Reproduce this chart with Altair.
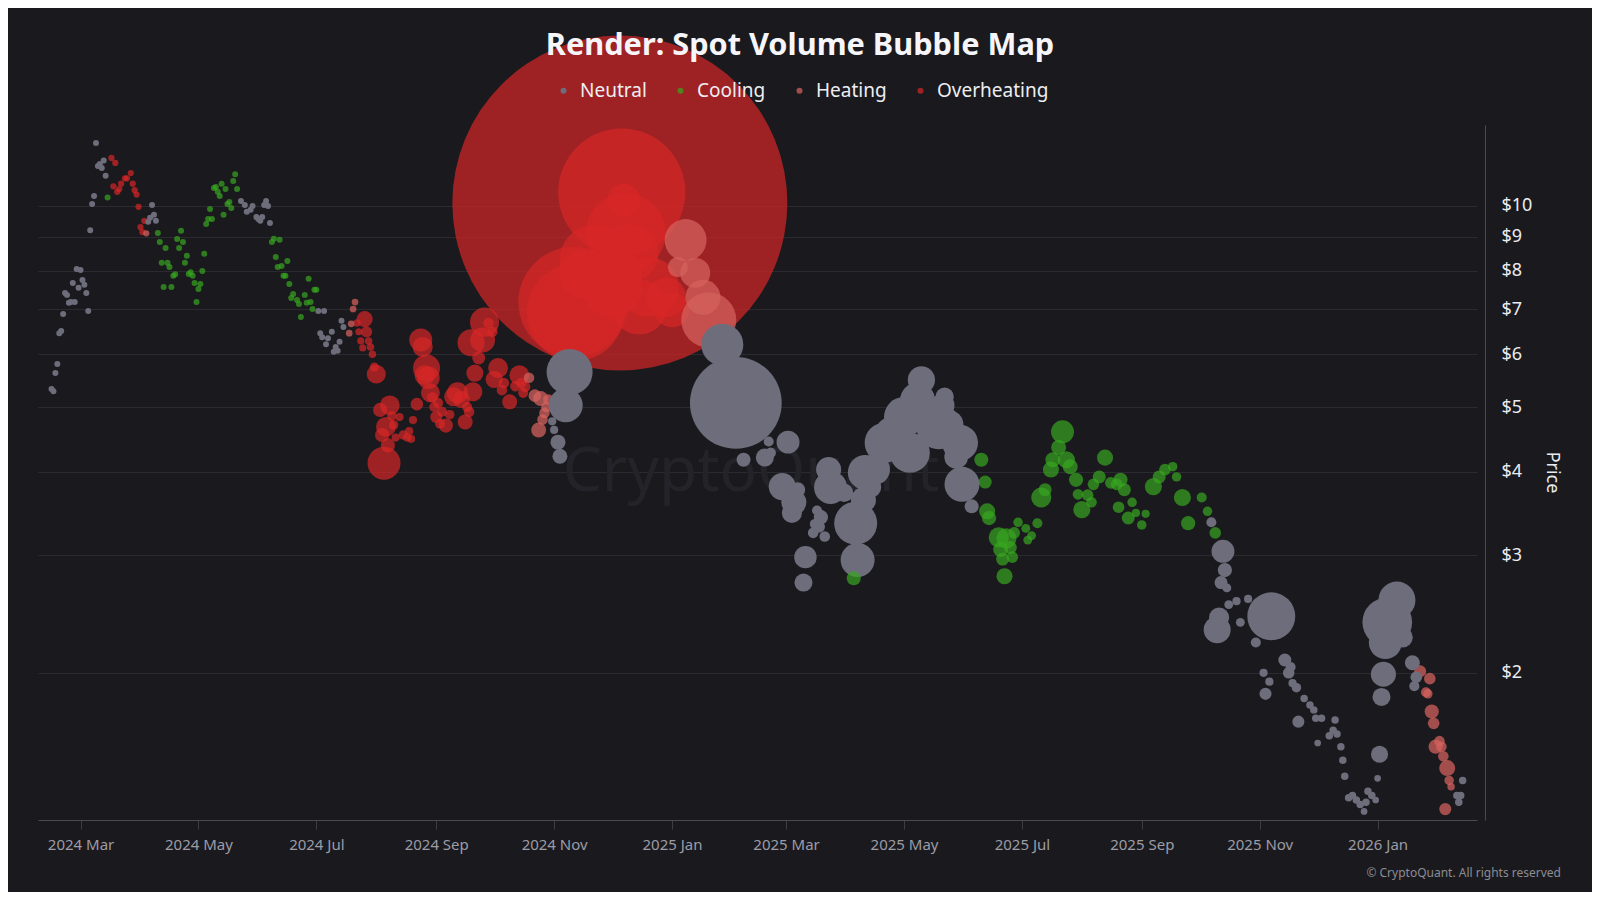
import altair as alt
import pandas as pd

# ---------------- data (date, price in USD, spot volume in $M) ----------------
NEUTRAL = [
    ("2024-02-15", 5.32, 0.32), ("2024-02-16", 5.28, 0.32), ("2024-02-17", 5.62, 0.32), ("2024-02-18", 5.80, 0.32),
    ("2024-02-19", 6.45, 0.32), ("2024-02-20", 6.50, 0.32), ("2024-02-21", 6.89, 0.32), ("2024-02-22", 7.41, 0.32),
    ("2024-02-23", 7.36, 0.32), ("2024-02-24", 7.16, 0.32), ("2024-02-25", 7.18, 0.32), ("2024-02-26", 7.67, 0.32),
    ("2024-02-27", 7.18, 0.32), ("2024-02-28", 8.05, 0.32), ("2024-02-29", 7.54, 0.32), ("2024-03-01", 8.02, 0.32),
    ("2024-03-02", 7.75, 0.32), ("2024-03-03", 7.62, 0.32), ("2024-03-04", 7.41, 0.32), ("2024-03-05", 6.96, 0.32),
    ("2024-03-06", 9.20, 0.32), ("2024-03-07", 10.07, 0.32), ("2024-03-08", 10.35, 0.32), ("2024-03-09", 12.42, 0.32),
    ("2024-03-10", 11.48, 0.32), ("2024-03-11", 11.56, 0.32), ("2024-03-12", 11.40, 0.32), ("2024-03-13", 11.70, 0.32),
    ("2024-03-14", 11.10, 0.32),
    ("2024-04-05", 9.47, 0.32), ("2024-04-06", 9.60, 0.32), ("2024-04-07", 10.03, 0.32), ("2024-04-08", 9.70, 0.32),
    ("2024-04-09", 9.50, 0.32),
    ("2024-05-23", 10.17, 0.32), ("2024-05-25", 10.03, 0.32), ("2024-05-26", 9.80, 0.32), ("2024-05-28", 9.87, 0.32),
    ("2024-05-29", 10.00, 0.32), ("2024-05-31", 9.63, 0.32), ("2024-06-01", 9.56, 0.32), ("2024-06-02", 9.50, 0.32),
    ("2024-06-03", 9.63, 0.32), ("2024-06-04", 10.03, 0.32), ("2024-06-05", 10.17, 0.32), ("2024-06-06", 10.00, 0.32),
    ("2024-06-07", 9.43, 0.32),
    ("2024-07-02", 6.96, 0.32), ("2024-07-03", 6.45, 0.32), ("2024-07-04", 6.36, 0.32), ("2024-07-05", 6.96, 0.32),
    ("2024-07-06", 6.21, 0.32), ("2024-07-07", 6.34, 0.32), ("2024-07-09", 6.48, 0.32), ("2024-07-10", 6.05, 0.32),
    ("2024-07-11", 6.15, 0.32), ("2024-07-12", 6.07, 0.32), ("2024-07-13", 6.26, 0.32), ("2024-07-14", 6.73, 0.32),
    ("2024-07-15", 6.59, 0.32),
    ("2024-10-31", 4.76, 0.6), ("2024-11-01", 4.62, 0.6), ("2024-11-03", 4.43, 2.0), ("2024-11-04", 4.22, 2.0),
    ("2024-11-07", 5.03, 10.3), ("2024-11-09", 5.64, 18.9),
    ("2025-01-27", 6.20, 15.7), ("2025-02-03", 5.07, 75.0), ("2025-02-07", 4.17, 1.75), ("2025-02-18", 4.20, 2.9),
    ("2025-02-20", 4.44, 0.9), ("2025-02-21", 4.27, 1.0), ("2025-02-27", 3.80, 6.5), ("2025-03-02", 4.43, 4.7),
    ("2025-03-04", 3.47, 3.6), ("2025-03-05", 3.60, 5.6), ("2025-03-07", 3.76, 2.0), ("2025-03-10", 2.73, 2.9),
    ("2025-03-11", 2.98, 4.5), ("2025-03-15", 3.24, 1.0), ("2025-03-16", 3.34, 1.0), ("2025-03-17", 3.50, 0.9),
    ("2025-03-18", 3.31, 1.3), ("2025-03-19", 3.42, 1.8), ("2025-03-21", 3.20, 1.0), ("2025-03-23", 4.03, 5.6),
    ("2025-03-24", 3.79, 9.7), ("2025-03-31", 3.72, 3.0),
    ("2025-04-06", 3.35, 16.5), ("2025-04-07", 2.95, 10.3), ("2025-04-10", 3.63, 5.6), ("2025-04-11", 3.99, 10.9),
    ("2025-04-14", 3.79, 3.6), ("2025-04-16", 4.03, 8.0), ("2025-04-18", 4.45, 5.6), ("2025-04-21", 4.42, 14.3),
    ("2025-04-23", 4.62, 5.0), ("2025-04-28", 4.95, 4.0), ("2025-05-01", 4.83, 14.3), ("2025-05-03", 4.80, 5.0),
    ("2025-05-04", 4.27, 14.3), ("2025-05-08", 5.12, 10.9), ("2025-05-10", 5.49, 6.6), ("2025-05-12", 4.78, 5.0),
    ("2025-05-17", 4.87, 6.0), ("2025-05-19", 4.67, 18.0), ("2025-05-21", 5.03, 5.0), ("2025-05-22", 5.18, 3.0),
    ("2025-05-24", 4.70, 8.0), ("2025-05-28", 4.21, 5.0), ("2025-05-30", 4.42, 11.5), ("2025-05-31", 3.83, 10.9),
    ("2025-06-05", 3.55, 1.75),
    ("2025-10-07", 3.36, 0.9), ("2025-10-10", 2.32, 6.5), ("2025-10-11", 2.42, 3.6), ("2025-10-12", 2.73, 1.5),
    ("2025-10-13", 3.04, 4.7), ("2025-10-14", 2.85, 1.8), ("2025-10-15", 2.68, 0.7), ("2025-10-16", 2.53, 0.7),
    ("2025-10-20", 2.56, 0.6), ("2025-10-22", 2.38, 0.7), ("2025-10-26", 2.58, 0.6), ("2025-10-30", 2.22, 0.9),
    ("2025-11-03", 2.00, 0.6), ("2025-11-04", 1.86, 1.3), ("2025-11-06", 1.94, 0.6), ("2025-11-07", 2.43, 20.5),
    ("2025-11-14", 2.09, 1.5), ("2025-11-16", 2.00, 1.2), ("2025-11-17", 2.04, 0.9), ("2025-11-18", 1.93, 0.6),
    ("2025-11-20", 1.90, 0.8), ("2025-11-21", 1.69, 1.3), ("2025-11-24", 1.83, 0.5), ("2025-11-27", 1.79, 0.5),
    ("2025-11-29", 1.76, 0.5), ("2025-11-30", 1.71, 0.5), ("2025-12-01", 1.57, 0.4), ("2025-12-03", 1.71, 0.5),
    ("2025-12-07", 1.61, 0.5), ("2025-12-09", 1.64, 0.5), ("2025-12-10", 1.70, 0.5), ("2025-12-11", 1.62, 0.5),
    ("2025-12-13", 1.55, 0.5), ("2025-12-14", 1.48, 0.5), ("2025-12-15", 1.40, 0.5), ("2025-12-17", 1.30, 0.5),
    ("2025-12-19", 1.31, 0.5), ("2025-12-21", 1.29, 0.5), ("2025-12-23", 1.27, 0.5), ("2025-12-25", 1.24, 0.4),
    ("2025-12-26", 1.28, 0.5), ("2025-12-27", 1.33, 0.5), ("2025-12-29", 1.31, 0.5), ("2025-12-31", 1.29, 0.4),
    ("2026-01-01", 1.39, 0.4), ("2026-01-02", 1.51, 2.6), ("2026-01-03", 1.84, 2.9), ("2026-01-04", 1.99, 5.6),
    ("2026-01-05", 2.22, 9.7), ("2026-01-06", 2.38, 22.0), ("2026-01-08", 2.30, 5.0), ("2026-01-11", 2.57, 12.2),
    ("2026-01-14", 2.26, 3.6), ("2026-01-19", 2.07, 2.0), ("2026-01-20", 1.91, 0.9), ("2026-01-21", 1.97, 1.2),
    ("2026-02-11", 1.31, 0.5), ("2026-02-12", 1.28, 0.5), ("2026-02-13", 1.31, 0.5), ("2026-02-14", 1.38, 0.5),
]

COOLING = [
    ("2024-03-15", 10.30, 0.32),
    ("2024-04-10", 9.11, 0.32), ("2024-04-11", 8.83, 0.32), ("2024-04-12", 8.22, 0.32), ("2024-04-13", 7.56, 0.32),
    ("2024-04-14", 8.65, 0.32), ("2024-04-15", 8.22, 0.32), ("2024-04-16", 8.10, 0.32), ("2024-04-17", 7.56, 0.32),
    ("2024-04-18", 7.86, 0.32), ("2024-04-19", 7.90, 0.32), ("2024-04-20", 8.92, 0.32), ("2024-04-21", 8.65, 0.32),
    ("2024-04-22", 9.18, 0.32), ("2024-04-23", 8.83, 0.32), ("2024-04-24", 8.22, 0.32), ("2024-04-25", 8.42, 0.32),
    ("2024-04-26", 7.91, 0.32), ("2024-04-27", 7.96, 0.32), ("2024-04-28", 7.86, 0.32), ("2024-04-29", 7.67, 0.32),
    ("2024-04-30", 7.18, 0.32), ("2024-05-01", 7.51, 0.32), ("2024-05-02", 7.64, 0.32), ("2024-05-03", 7.99, 0.32),
    ("2024-05-04", 8.48, 0.32), ("2024-05-05", 9.40, 0.32), ("2024-05-06", 9.56, 0.32), ("2024-05-07", 9.90, 0.32),
    ("2024-05-08", 9.56, 0.32), ("2024-05-09", 10.64, 0.32), ("2024-05-10", 10.68, 0.32), ("2024-05-11", 10.50, 0.32),
    ("2024-05-12", 10.35, 0.32), ("2024-05-13", 10.80, 0.32), ("2024-05-14", 9.70, 0.32), ("2024-05-15", 10.60, 0.32),
    ("2024-05-16", 10.07, 0.32), ("2024-05-17", 10.14, 0.32), ("2024-05-18", 9.93, 0.32), ("2024-05-19", 10.90, 0.32),
    ("2024-05-20", 11.16, 0.32), ("2024-05-21", 10.60, 0.32),
    ("2024-06-08", 8.83, 0.32), ("2024-06-09", 8.93, 0.32), ("2024-06-10", 8.39, 0.32), ("2024-06-11", 8.10, 0.32),
    ("2024-06-12", 8.90, 0.32), ("2024-06-13", 8.13, 0.32), ("2024-06-14", 7.86, 0.32), ("2024-06-15", 7.86, 0.32),
    ("2024-06-16", 8.27, 0.32), ("2024-06-17", 7.64, 0.32), ("2024-06-18", 7.28, 0.32), ("2024-06-19", 7.38, 0.32),
    ("2024-06-21", 7.23, 0.32), ("2024-06-22", 7.13, 0.32), ("2024-06-23", 6.82, 0.32), ("2024-06-25", 7.36, 0.32),
    ("2024-06-26", 7.16, 0.32), ("2024-06-27", 7.78, 0.32), ("2024-06-28", 7.18, 0.32), ("2024-06-29", 7.01, 0.32),
    ("2024-06-30", 7.49, 0.32), ("2024-07-01", 7.49, 0.32),
    ("2025-04-05", 2.77, 1.75),
    ("2025-06-10", 4.17, 1.75), ("2025-06-12", 3.86, 1.5), ("2025-06-13", 3.49, 2.3), ("2025-06-14", 3.41, 1.8),
    ("2025-06-19", 3.19, 3.6), ("2025-06-20", 3.06, 2.0), ("2025-06-21", 2.96, 1.5), ("2025-06-22", 2.79, 2.3),
    ("2025-06-23", 3.18, 3.6), ("2025-06-25", 3.08, 1.5), ("2025-06-26", 2.98, 1.2), ("2025-06-27", 3.24, 1.2),
    ("2025-06-29", 3.36, 0.8), ("2025-07-03", 3.29, 0.7), ("2025-07-04", 3.16, 0.7), ("2025-07-06", 3.21, 0.7),
    ("2025-07-09", 3.35, 0.9), ("2025-07-11", 3.66, 3.6), ("2025-07-13", 3.76, 1.5), ("2025-07-16", 4.03, 2.3),
    ("2025-07-17", 4.17, 2.0), ("2025-07-20", 4.35, 2.0), ("2025-07-22", 4.59, 4.7), ("2025-07-24", 4.17, 2.6),
    ("2025-07-26", 4.07, 2.0), ("2025-07-29", 3.89, 1.8), ("2025-07-30", 3.70, 1.0), ("2025-08-01", 3.51, 2.6),
    ("2025-08-04", 3.69, 1.2), ("2025-08-06", 3.60, 1.0), ("2025-08-07", 3.83, 1.2), ("2025-08-10", 3.93, 1.5),
    ("2025-08-13", 4.20, 2.3), ("2025-08-16", 3.85, 1.2), ("2025-08-19", 3.83, 1.2), ("2025-08-20", 3.54, 1.2),
    ("2025-08-21", 3.89, 1.8), ("2025-08-23", 3.76, 1.5), ("2025-08-25", 3.41, 1.5), ("2025-08-27", 3.60, 0.8),
    ("2025-08-29", 3.47, 0.6), ("2025-09-01", 3.33, 0.8), ("2025-09-03", 3.46, 0.6), ("2025-09-07", 3.80, 2.6),
    ("2025-09-10", 3.93, 1.5), ("2025-09-13", 4.03, 1.2), ("2025-09-17", 4.07, 0.8), ("2025-09-19", 3.93, 0.8),
    ("2025-09-22", 3.66, 2.6), ("2025-09-25", 3.35, 1.8), ("2025-10-02", 3.66, 0.9), ("2025-10-05", 3.49, 0.8),
    ("2025-10-09", 3.24, 1.2),
]

HEATING = [
    ("2024-04-04", 9.10, 0.35),
    ("2024-07-18", 6.45, 0.4), ("2024-07-19", 6.66, 0.4), ("2024-07-20", 7.01, 0.4), ("2024-07-21", 7.18, 0.4),
    ("2024-10-19", 5.53, 1.0), ("2024-10-22", 5.20, 1.4), ("2024-10-24", 4.62, 2.0), ("2024-10-25", 5.15, 2.0),
    ("2024-10-26", 4.79, 1.0), ("2024-10-27", 4.90, 1.0), ("2024-10-28", 5.00, 1.0), ("2024-10-29", 5.13, 1.0),
    ("2025-01-04", 8.10, 3.6), ("2025-01-08", 8.89, 15.7), ("2025-01-13", 7.94, 8.0), ("2025-01-17", 7.30, 10.9),
    ("2025-01-20", 6.75, 27.0),
    ("2026-01-23", 2.01, 1.3), ("2026-01-26", 1.87, 0.9), ("2026-01-27", 1.86, 0.8), ("2026-01-28", 1.96, 1.2),
    ("2026-01-29", 1.75, 1.8), ("2026-01-30", 1.68, 1.2), ("2026-01-31", 1.55, 1.8), ("2026-02-02", 1.58, 1.0),
    ("2026-02-03", 1.55, 1.0), ("2026-02-04", 1.50, 1.0), ("2026-02-05", 1.25, 1.3), ("2026-02-06", 1.44, 2.3),
    ("2026-02-07", 1.38, 0.8), ("2026-02-08", 1.35, 0.5),
]

OVERHEATING = [
    ("2024-03-17", 11.80, 0.35), ("2024-03-18", 10.70, 0.35), ("2024-03-19", 11.60, 0.35), ("2024-03-20", 10.50, 0.35),
    ("2024-03-21", 10.60, 0.35), ("2024-03-22", 10.80, 0.35), ("2024-03-24", 11.00, 0.35), ("2024-03-25", 11.00, 0.35),
    ("2024-03-27", 11.20, 0.35), ("2024-03-28", 10.80, 0.35), ("2024-03-29", 10.56, 0.35), ("2024-03-30", 10.40, 0.35),
    ("2024-03-31", 9.97, 0.35), ("2024-04-01", 9.30, 0.35), ("2024-04-02", 9.14, 0.35), ("2024-04-03", 9.50, 0.35),
    ("2024-07-22", 6.68, 0.5), ("2024-07-23", 6.48, 0.45), ("2024-07-24", 6.28, 0.45), ("2024-07-25", 6.13, 0.45),
    ("2024-07-26", 6.77, 2.3), ("2024-07-27", 6.48, 1.1), ("2024-07-28", 6.28, 0.5), ("2024-07-29", 6.15, 0.5),
    ("2024-07-30", 6.00, 0.5), ("2024-07-31", 5.74, 0.72), ("2024-08-01", 5.60, 3.2),
    ("2024-08-03", 4.95, 1.8), ("2024-08-04", 4.54, 1.8), ("2024-08-05", 4.12, 9.7), ("2024-08-06", 4.67, 3.5),
    ("2024-08-07", 4.38, 1.8), ("2024-08-08", 5.03, 3.5), ("2024-08-09", 4.85, 0.8), ("2024-08-10", 4.70, 0.8),
    ("2024-08-11", 4.50, 0.6), ("2024-08-13", 4.83, 0.6), ("2024-08-15", 4.54, 0.8), ("2024-08-17", 4.50, 0.6),
    ("2024-08-18", 4.60, 0.6), ("2024-08-19", 4.48, 0.6), ("2024-08-20", 4.78, 0.6), ("2024-08-22", 5.05, 1.4),
    ("2024-08-24", 6.30, 4.7), ("2024-08-25", 6.15, 3.6), ("2024-08-26", 5.58, 3.6), ("2024-08-27", 5.72, 6.5),
    ("2024-08-28", 5.53, 4.5), ("2024-08-29", 5.25, 3.2), ("2024-08-30", 5.17, 1.0), ("2024-08-31", 5.00, 0.9),
    ("2024-09-01", 4.83, 1.3), ("2024-09-02", 5.07, 0.9), ("2024-09-03", 4.72, 0.9), ("2024-09-04", 4.92, 0.9),
    ("2024-09-06", 4.69, 1.8), ("2024-09-08", 4.87, 0.8), ("2024-09-10", 5.18, 3.2), ("2024-09-12", 5.25, 4.0),
    ("2024-09-14", 5.13, 2.6), ("2024-09-16", 4.75, 2.0), ("2024-09-17", 5.00, 0.9), ("2024-09-18", 4.92, 1.0),
    ("2024-09-19", 6.24, 6.5), ("2024-09-20", 5.27, 3.2), ("2024-09-21", 5.62, 2.6), ("2024-09-23", 5.92, 1.5),
    ("2024-09-25", 6.30, 5.5), ("2024-09-26", 6.70, 7.5), ("2024-09-28", 6.68, 1.0), ("2024-09-30", 6.48, 1.0),
    ("2024-10-01", 5.50, 2.6), ("2024-10-03", 5.72, 3.5), ("2024-10-05", 5.30, 1.0), ("2024-10-06", 5.43, 1.0),
    ("2024-10-09", 5.09, 2.0), ("2024-10-12", 5.37, 1.0), ("2024-10-14", 5.58, 3.5), ("2024-10-15", 5.43, 1.0),
    ("2024-10-16", 5.25, 0.9), ("2024-10-17", 5.36, 1.0),
    ("2024-11-11", 7.18, 108.0), ("2024-11-12", 6.93, 84.0), ("2024-11-16", 7.90, 20.0), ("2024-11-22", 8.30, 44.0),
    ("2024-12-01", 7.56, 32.0), ("2024-12-04", 7.90, 20.0), ("2024-12-05", 10.10, 1000.0), ("2024-12-06", 10.49, 144.0),
    ("2024-12-07", 10.20, 9.7), ("2024-12-08", 9.11, 57.0), ("2024-12-10", 8.50, 30.0), ("2024-12-15", 7.06, 27.0),
    ("2024-12-20", 7.56, 32.0), ("2024-12-29", 7.30, 14.0), ("2025-01-01", 6.99, 10.9),
]

CATEGORIES = ["Neutral", "Cooling", "Heating", "Overheating"]
COLORS = ["#6d6d7c", "rgba(56,167,31,0.7)", "rgba(214,98,94,0.72)", "rgba(215,38,38,0.7)"]
DRAW_RANK = [2, 3, 1, 0]  # neutral, cooling, heating, overheating stacking order

Y_TICKS = [2, 3, 4, 5, 6, 7, 8, 9, 10]
X_TICKS = ["2024-03-01", "2024-05-01", "2024-07-01", "2024-09-01", "2024-11-01", "2025-01-01",
           "2025-03-01", "2025-05-01", "2025-07-01", "2025-09-01", "2025-11-01", "2026-01-01"]
X_RANGE = ["2024-02-08T00:00:00", "2026-02-21T10:00:00"]
Y_RANGE = [1.204, 13.22]

TITLE = "Render: Spot Volume Bubble Map"
WATERMARK = "CryptoQuant"
COPYRIGHT = "© CryptoQuant. All rights reserved"

BG = "#1a1a1e"
FONT = "Noto Sans"

# ---------------- build table ----------------
rows = []
for cat, rank, series in zip(CATEGORIES, DRAW_RANK,
                             [NEUTRAL, COOLING, HEATING, OVERHEATING]):
    for d, p, v in series:
        rows.append({"date": d, "price": p, "volume": v, "regime": cat, "layer": rank})
df = pd.DataFrame(rows).sort_values(["layer", "date"]).reset_index(drop=True)


def ms(s):
    return int(pd.Timestamp(s).timestamp() * 1000)


x_ticks_ms = [ms(s) for s in X_TICKS]
x_dom = [ms(s) for s in X_RANGE]

W, H = 1439, 695

bubbles = alt.Chart(df).mark_circle(opacity=1, strokeWidth=0, clip=False).encode(
    x=alt.X("date:T",
            scale=alt.Scale(type="utc", domain=x_dom, nice=False),
            axis=alt.Axis(values=x_ticks_ms, format="%Y %b", grid=False, title=None,
                          tickSize=9, tickColor="#3d3d45", domainColor="#4a4a52",
                          labelFont=FONT, labelFontSize=15, labelColor="#9c9ca6",
                          labelPadding=8, labelFlush=False, labelOverlap=False)),
    y=alt.Y("price:Q",
            scale=alt.Scale(type="log", domain=Y_RANGE, nice=False),
            axis=alt.Axis(orient="right", offset=8, values=Y_TICKS,
                          labelExpr="'$' + datum.value", ticks=False, labelPadding=16,
                          labelFont=FONT, labelFontSize=18, labelColor="#ececf0",
                          domainColor="#4a4a55", gridColor="#2a2a30", gridWidth=1,
                          title="Price", titleFont=FONT, titleFontSize=18,
                          titleFontWeight="normal", titleColor="#ececf0", titleAngle=90,
                          titleX=66, titleY=347, titleAlign="center", titleBaseline="middle")),
    size=alt.Size("volume:Q", scale=alt.Scale(domain=[0, 1000], range=[0, 112225]), legend=None),
    color=alt.Color("regime:N",
                    scale=alt.Scale(domain=CATEGORIES, range=COLORS),
                    legend=alt.Legend(title=None, orient="none", legendX=516, legendY=-44,
                                      direction="horizontal", columns=4, symbolType="circle",
                                      symbolSize=36, symbolStrokeWidth=0, labelFont=FONT,
                                      labelFontSize=19, labelColor="#eeeef2", labelOffset=7,
                                      columnPadding=24, zindex=2)),
    order=alt.Order("layer:Q"),
)

watermark = alt.Chart(pd.DataFrame({"t": [WATERMARK]})).mark_text(
    font=FONT, fontSize=62, color="#232329", align="center", baseline="middle"
).encode(x=alt.value(713), y=alt.value(347), text="t:N")

title = alt.Chart(pd.DataFrame({"t": [TITLE]})).mark_text(
    font=FONT, fontSize=30.7, fontWeight="bold", color="#f5f5fa", align="center", baseline="middle"
).encode(x=alt.value(762), y=alt.value(-79), text="t:N")

copyright_ = alt.Chart(pd.DataFrame({"t": [COPYRIGHT]})).mark_text(
    font=FONT, fontSize=12, color="#8c8c94", align="right", baseline="middle"
).encode(x=alt.value(1523), y=alt.value(748), text="t:N")

chart = alt.layer(watermark, bubbles, title, copyright_).properties(
    width=W, height=H,
    padding={"left": 30, "top": 117, "right": 115, "bottom": 72},
    autosize=alt.AutoSizeParams(type="none"),
    background=BG,
).configure(font=FONT).configure_view(stroke=None, strokeWidth=0)

chart.save("out.html", embed_options={"renderer": "svg", "actions": False})
